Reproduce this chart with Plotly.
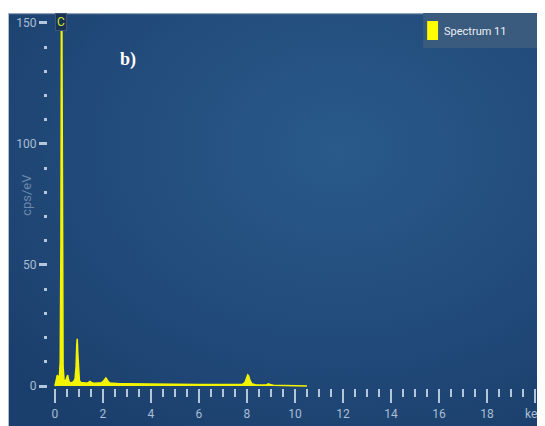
import base64
import plotly.graph_objects as go

# ---- data (keV, cps/eV) ----
energy_kev = [0.00, 0.05, 0.10, 0.14, 0.18, 0.22, 0.25, 0.27, 0.28, 0.29, 0.31, 0.34,
              0.38, 0.42, 0.46, 0.50, 0.53, 0.56, 0.60, 0.66, 0.72, 0.78, 0.84, 0.88,
              0.91, 0.93, 0.95, 0.98, 1.02, 1.08, 1.16, 1.26, 1.36, 1.42, 1.46, 1.50,
              1.56, 1.66, 1.80, 1.94, 2.02, 2.08, 2.12, 2.16, 2.22, 2.30, 2.45, 2.70,
              3.00, 3.50, 4.00, 4.50, 5.00, 5.50, 6.00, 6.50, 7.00, 7.50, 7.80, 7.92,
              7.98, 8.03, 8.07, 8.12, 8.20, 8.35, 8.60, 8.82, 8.90, 8.96, 9.10, 9.40,
              9.70, 10.00, 10.30, 10.50]
counts = [0.0, 3.0, 4.5, 3.5, 3.0, 10.0, 60.0, 170.0, 175.0, 150.0, 40.0, 8.0,
          2.5, 1.8, 2.5, 4.0, 4.5, 3.0, 1.6, 1.3, 1.4, 1.8, 3.0, 8.0,
          17.0, 19.5, 14.0, 5.0, 2.2, 1.5, 1.3, 1.2, 1.2, 1.5, 1.9, 1.6,
          1.2, 1.1, 1.1, 1.3, 2.0, 3.0, 3.3, 2.8, 1.8, 1.2, 1.0, 0.9,
          0.9, 0.8, 0.8, 0.7, 0.7, 0.6, 0.6, 0.6, 0.5, 0.5, 0.6, 1.5,
          3.2, 4.6, 4.2, 2.4, 0.9, 0.5, 0.4, 0.5, 0.9, 0.6, 0.35, 0.3,
          0.3, 0.25, 0.1, 0.0]

x_tick_vals = [0, 2, 4, 6, 8, 10, 12, 14, 16, 18, 20]
x_tick_text = ["0", "2", "4", "6", "8", "10", "12", "14", "16", "18", "keV"]
y_tick_vals = [0, 50, 100, 150]
y_tick_text = ["0", "50", "100", "150"]
series_name = "Spectrum 11"
peak_label = "C"
peak_label_kev = 0.27

# ---- layout geometry (page body has an 8px margin) ----
W, H = 537, 418
ML, MR, MT, MB = 40, 0, 5, 38
pw = W - ML - MR
ph = H - MT - MB
TICK_COL = "#b4c6da"
LABEL_COL = "#a9bdd3"
FONT = "Roboto, 'Liberation Sans Narrow', 'DejaVu Sans Condensed', sans-serif"
YELLOW = "#f4f400"


def px_x(px):
    return (px - ML) / pw


def px_y(py):
    return 1 - (py - MT) / ph


svg = ('<svg xmlns="http://www.w3.org/2000/svg" width="537" height="413" '
       'preserveAspectRatio="none"><defs><radialGradient id="g" cx="0.62" cy="0.33" r="0.8">'
       '<stop offset="0" stop-color="#295a89"/><stop offset="0.6" stop-color="#214a7a"/>'
       '<stop offset="1" stop-color="#1b3f6c"/></radialGradient></defs>'
       '<rect width="537" height="413" fill="url(#g)"/>'
       '<rect x="0" y="0" width="537" height="1.2" fill="#8ea2b8"/></svg>')
bg_uri = "data:image/svg+xml;base64," + base64.b64encode(svg.encode()).decode()

px_per_kev = 24.25
x0 = -(47 - ML) / px_per_kev
x1 = x0 + pw / px_per_kev
px_per_cps = 2.421
y0 = -(MT + ph - 378) / px_per_cps
y1 = y0 + ph / px_per_cps

fig = go.Figure()
fig.add_trace(go.Scatter(
    x=energy_kev, y=counts, mode="lines", name=series_name,
    line=dict(color=YELLOW, width=1.5), fill="tozeroy", fillcolor=YELLOW,
    showlegend=False,
))

fig.update_layout(
    width=W, height=H,
    margin=dict(l=ML, r=MR, t=MT, b=MB, pad=0),
    paper_bgcolor="white",
    plot_bgcolor="rgba(0,0,0,0)",
    font=dict(family=FONT, size=12, color=LABEL_COL),
    images=[dict(source=bg_uri, xref="paper", yref="paper",
                 x=px_x(0), y=1, sizex=W / pw, sizey=(H - MT) / ph,
                 xanchor="left", yanchor="top", sizing="stretch", layer="below")],
    xaxis=dict(range=[x0, x1], showgrid=False, zeroline=False, showline=False,
               tickmode="array", tickvals=x_tick_vals, ticktext=x_tick_text,
               ticks="outside", ticklen=14, tickwidth=2, tickcolor=TICK_COL,
               tickfont=dict(family=FONT, size=12, color=LABEL_COL),
               ticklabelstandoff=1, ticklabeloverflow="allow",
               minor=dict(tickmode="linear", tick0=0, dtick=0.5, ticks="outside",
                          ticklen=8, tickwidth=2, tickcolor=TICK_COL, showgrid=False)),
    yaxis=dict(range=[y0, y1], showgrid=False, zeroline=False, showline=False,
               tickmode="array", tickvals=y_tick_vals, ticktext=y_tick_text,
               ticks="outside", ticklen=8, tickwidth=3, tickcolor=TICK_COL,
               tickfont=dict(family=FONT, size=12, color=LABEL_COL),
               minor=dict(tickmode="linear", tick0=0, dtick=10, ticks="outside",
                          ticklen=3, tickwidth=3, tickcolor=TICK_COL, showgrid=False)),
    shapes=[
        dict(type="rect", xref="paper", yref="paper", x0=px_x(419), x1=px_x(537),
             y0=px_y(40), y1=px_y(5), fillcolor="#3b5b7e", line=dict(width=0)),
        dict(type="rect", xref="paper", yref="paper", x0=px_x(423), x1=px_x(434),
             y0=px_y(32), y1=px_y(13), fillcolor="#ffff00", line=dict(width=0)),
    ],
    annotations=[
        dict(text=series_name, xref="paper", yref="paper", x=px_x(438), y=px_y(23),
             xanchor="left", yanchor="middle", showarrow=False,
             font=dict(family=FONT, size=11, color="#e8eef4")),
        dict(text="cps/eV", textangle=-90, xref="paper", yref="paper",
             x=px_x(8), y=px_y(187), showarrow=False,
             font=dict(family=FONT, size=13, color="#6a88aa")),
        dict(text="<b>b)</b>", xref="paper", yref="paper",
             x=px_x(111), y=px_y(39), showarrow=False,
             font=dict(family="Liberation Serif, Times New Roman, serif", size=18,
                       color="white")),
        dict(text=peak_label, xref="x", yref="paper", x=peak_label_kev, y=1,
             xanchor="center", yanchor="top", showarrow=False,
             bgcolor="#1a3150", bordercolor="#3a5679", borderwidth=1, borderpad=1,
             font=dict(family=FONT, size=12, color="#c8e63c")),
    ],
)

fig.write_html("out.html")
